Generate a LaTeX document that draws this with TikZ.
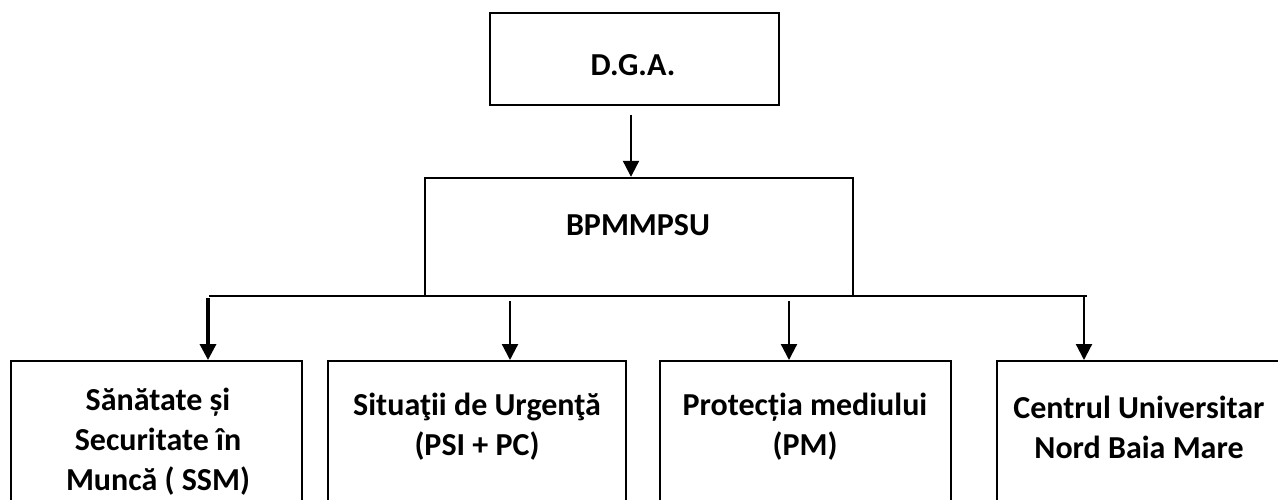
\documentclass[tikz,border=0pt]{standalone}
\usepackage{fontspec}
\setmainfont{Carlito}
\usetikzlibrary{arrows.meta}
\begin{document}
\begin{tikzpicture}[x=1pt,y=-1pt,
  box/.style={draw, line width=2.4pt, inner sep=0pt},
  lbl/.style={font=\fontsize{32}{40}\selectfont\bfseries, align=center, inner sep=0pt},
  arr/.style={line width=2.2pt, -{Triangle[width=16pt,length=16pt]}},
  thickarr/.style={arr, line width=3.4pt},
  link/.style={line width=2.4pt}]
\useasboundingbox (0,0) rectangle (1278,499);
\clip (0,0) rectangle (1278,499);
% top boxes
\node[box, minimum width=289pt, minimum height=92pt] (dga) at (634.5,59) {};
\node[lbl] (dgat) at (633,65) {D.G.A.};
\node[box, minimum width=428pt, minimum height=118pt] (bp) at (639,237) {};
\node[lbl] (bpt) at (638,225) {BPMMPSU};
% bottom boxes
\node[box, anchor=north, minimum width=291pt, minimum height=220pt] (ssm) at (156.5,360) {};
\node[box, anchor=north, minimum width=298pt, minimum height=220pt] (su) at (477,360) {};
\node[box, anchor=north, minimum width=291pt, minimum height=220pt] (pm) at (805.5,360) {};
\node[box, anchor=north, minimum width=290pt, minimum height=220pt] (cu) at (1142,360) {};
\node[lbl] (ssmt) at (158,442) {Sănătate și\\Securitate în\\Muncă ( SSM)};
\node[lbl] (sut) at (477,427) {Situaţii de Urgenţă\\(PSI + PC)};
\node[lbl] (pmt) at (805,427) {Protecția mediului\\(PM)};
\node[lbl] (cut) at (1139,427) {Centrul Universitar\\Nord Baia Mare};
% connectors
\coordinate (d0) at (631,115);
\draw[arr] (d0) -- (d0 |- bp.north);
\coordinate (hl) at (209,296);
\coordinate (hr) at (1087,296);
\draw[link] (hl) -- (hr);
\coordinate (a1) at (208,298);
\coordinate (a2) at (510,301);
\coordinate (a3) at (789,301);
\coordinate (a4) at (1084,297);
\draw[thickarr] (a1) -- (a1 |- ssm.north);
\draw[arr] (a2) -- (a2 |- su.north);
\draw[arr] (a3) -- (a3 |- pm.north);
\draw[arr] (a4) -- (a4 |- cu.north);
\end{tikzpicture}
\end{document}
